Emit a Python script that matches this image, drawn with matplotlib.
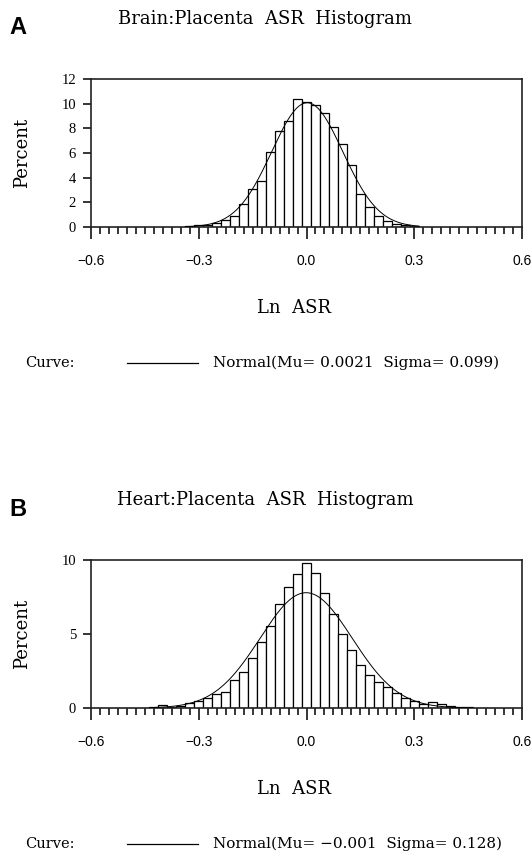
"""Brain/Heart : Placenta ASR histograms with fitted normal curves."""
import matplotlib

matplotlib.use("Agg")
import matplotlib.pyplot as plt
import numpy as np
from matplotlib.ticker import MultipleLocator

# bin midpoints (Ln ASR) and percent per bin
brain_mid = [-0.325, -0.3, -0.275, -0.25, -0.225, -0.2, -0.175, -0.15, -0.125,
             -0.1, -0.075, -0.05, -0.025, 0.0, 0.025, 0.05, 0.075, 0.1, 0.125,
             0.15, 0.175, 0.2, 0.225, 0.25, 0.275, 0.3]
brain_pct = [0.1, 0.14, 0.2, 0.33, 0.6, 0.86, 1.84, 3.1, 3.73,
             6.08, 7.76, 8.57, 10.4, 10.1, 9.9, 9.27, 8.1, 6.7, 5.0,
             2.65, 1.6, 0.92, 0.49, 0.27, 0.16, 0.1]
brain_mu, brain_sigma = 0.0021, 0.099

heart_mid = [-0.425, -0.4, -0.375, -0.35, -0.325, -0.3, -0.275, -0.25, -0.225,
             -0.2, -0.175, -0.15, -0.125, -0.1, -0.075, -0.05, -0.025, 0.0,
             0.025, 0.05, 0.075, 0.1, 0.125, 0.15, 0.175, 0.2, 0.225, 0.25,
             0.275, 0.3, 0.325, 0.35, 0.375, 0.4, 0.425, 0.45]
heart_pct = [0.09, 0.18, 0.09, 0.16, 0.35, 0.45, 0.68, 0.97, 1.06,
             1.87, 2.44, 3.41, 4.47, 5.53, 7.0, 8.19, 9.03, 9.82,
             9.14, 7.79, 6.32, 4.97, 3.9, 2.93, 2.26, 1.76, 1.42, 1.04,
             0.68, 0.45, 0.25, 0.38, 0.25, 0.11, 0.09, 0.09]
heart_mu, heart_sigma = -0.001, 0.128

bin_width = 0.025
x_ticks = [-0.6, -0.3, 0.0, 0.3, 0.6]
x_labels = ["\u22120.6", "\u22120.3", "0.0", "0.3", "0.6"]

W, H = 532, 863
SERIF = "DejaVu Serif"

fig = plt.figure(figsize=(W / 100, H / 100), dpi=100, facecolor="w")


def fy(y):
    return 1 - y / H


def panel(top, bottom, mids, pct, mu, sigma, ymax, ystep, letter, title, curve_text):
    ax = fig.add_axes([91 / W, fy(bottom), (522 - 91) / W, (bottom - top) / H])
    ax.bar(mids, pct, width=bin_width, facecolor="white", edgecolor="black",
           linewidth=0.9, zorder=2)
    xs = np.linspace(mids[0] - bin_width / 2, mids[-1] + bin_width / 2, 400)
    pdf = 100 * bin_width * np.exp(-0.5 * ((xs - mu) / sigma) ** 2) / (sigma * np.sqrt(2 * np.pi))
    ax.plot(xs, pdf, color="black", linewidth=0.7, zorder=3)

    ax.set_xlim(-0.6, 0.6)
    ax.set_ylim(0, ymax)
    ax.set_xticks(x_ticks)
    ax.set_xticklabels(x_labels, fontfamily="Liberation Sans", fontsize=10)
    ax.xaxis.set_minor_locator(MultipleLocator(bin_width))
    ax.yaxis.set_major_locator(MultipleLocator(ystep))
    ax.tick_params(axis="x", which="major", direction="out", length=8.6, width=1.1, pad=11)
    ax.tick_params(axis="x", which="minor", direction="out", length=5, width=1.1)
    ax.tick_params(axis="y", which="major", direction="out", length=5.8, width=1.1, pad=5)
    for lab in ax.get_yticklabels():
        lab.set_fontfamily("Liberation Serif")
        lab.set_fontsize(10.5)
    for sp in ax.spines.values():
        sp.set_linewidth(1.2)
        sp.set_color("#222222")

    fig.text(22 / W, fy((top + bottom) / 2), "Percent", fontfamily=SERIF, fontsize=13,
             rotation=90, va="center", ha="center")
    fig.text(9 / W, fy(top - 51), letter, fontfamily="Liberation Sans", fontsize=17,
             fontweight="bold", va="center", ha="left")
    fig.text(265 / W, fy(top - 60), title, fontfamily=SERIF, fontsize=13,
             va="center", ha="center")
    fig.text(294 / W, fy(bottom + 81), "Ln  ASR", fontfamily=SERIF, fontsize=13,
             va="center", ha="center")
    ly = fy(bottom + 136)
    fig.text(25 / W, ly, "Curve:", fontfamily=SERIF, fontsize=10.5, va="center", ha="left")
    fig.add_artist(plt.Line2D([127 / W, 198 / W], [ly, ly], color="black", linewidth=0.9))
    fig.text(213 / W, ly, curve_text, fontfamily=SERIF, fontsize=11, va="center", ha="left")
    return ax


panel(79, 227, brain_mid, brain_pct, brain_mu, brain_sigma, 12, 2, "A",
      "Brain:Placenta  ASR  Histogram", "Normal(Mu= 0.0021  Sigma= 0.099)")
panel(560, 708, heart_mid, heart_pct, heart_mu, heart_sigma, 10, 5, "B",
      "Heart:Placenta  ASR  Histogram", "Normal(Mu= \u22120.001  Sigma= 0.128)")

fig.savefig("out.png", dpi=100, facecolor="w")
